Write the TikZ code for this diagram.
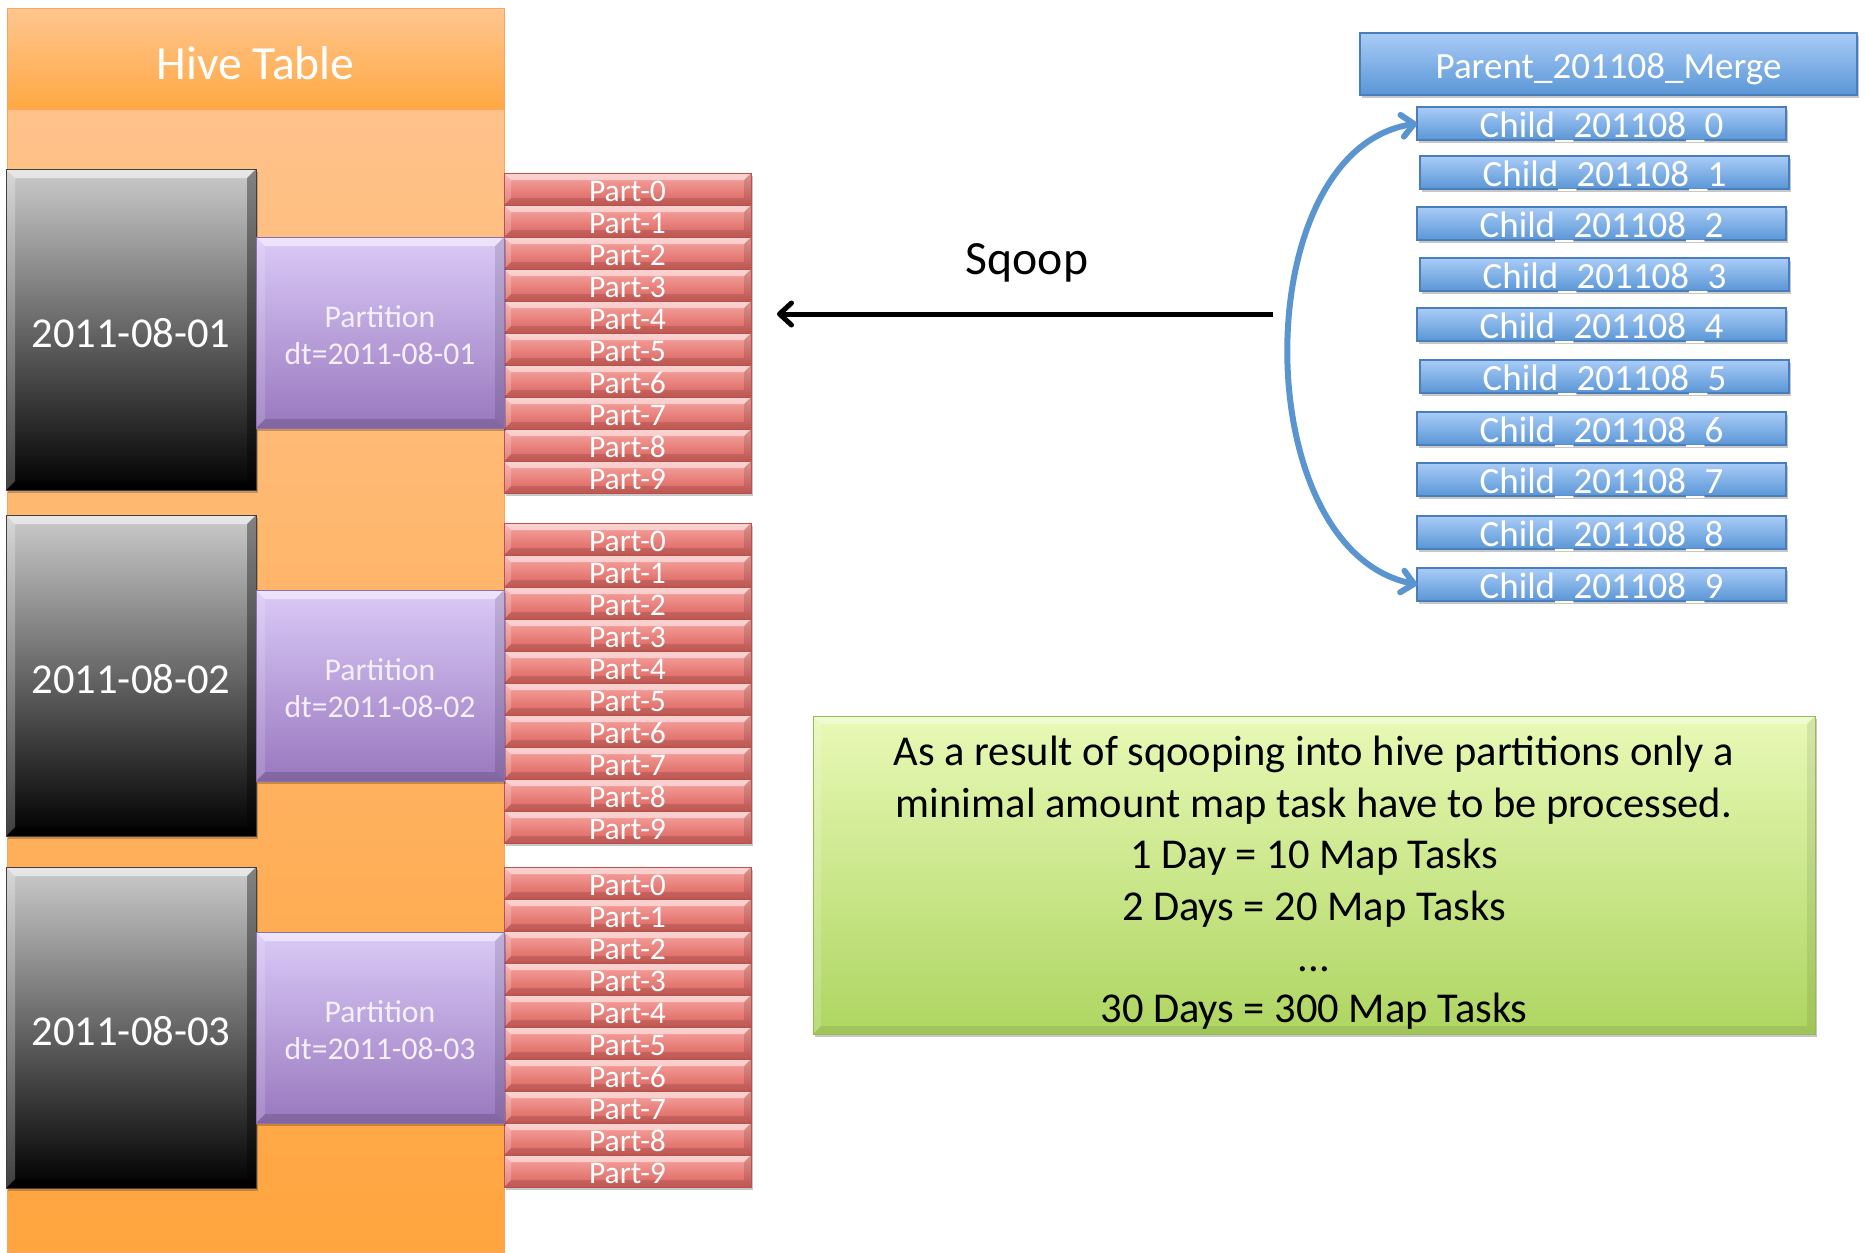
\documentclass[tikz,border=0pt]{standalone}
\usepackage{fontspec}
\setmainfont{Carlito}
\usetikzlibrary{arrows.meta,shadows}

% palette
\definecolor{hdrTop}{HTML}{FFC68F}
\definecolor{hdrBot}{HTML}{FFA843}
\definecolor{tblTop}{HTML}{FFC28A}
\definecolor{tblBot}{HTML}{FFA53F}
\definecolor{tblLine}{HTML}{F6A65E}
\definecolor{dateTop}{HTML}{CBCBCB}
\definecolor{partTop}{HTML}{DBCAF7}
\definecolor{partBot}{HTML}{9878BE}
\definecolor{partLine}{HTML}{8B6FB2}
\definecolor{partText}{HTML}{F4EFFB}
\definecolor{fileTop}{HTML}{F9A8A4}
\definecolor{fileMid}{HTML}{F2867F}
\definecolor{fileBot}{HTML}{DA625D}
\definecolor{fileLine}{HTML}{B9514E}
\definecolor{blueTop}{HTML}{A9CCF7}
\definecolor{blueBot}{HTML}{5A96D6}
\definecolor{blueLine}{HTML}{4A7EBB}
\definecolor{arcBlue}{HTML}{5B95D0}
\definecolor{noteTop}{HTML}{E8F9B6}
\definecolor{noteBot}{HTML}{AED561}
\definecolor{noteLine}{HTML}{98BA55}

\tikzset{
  % bevelled edges: size, top light, bottom dark, left light, right dark
  bevel/.style n args={5}{path picture={
    \path (path picture bounding box.north west) coordinate (bvA)
          (path picture bounding box.north east) coordinate (bvB)
          (path picture bounding box.south east) coordinate (bvC)
          (path picture bounding box.south west) coordinate (bvD);
    \fill[white,opacity=#2] (bvA) -- (bvB) -- ([xshift=-#1,yshift=-#1]bvB)
         -- ([xshift=#1,yshift=-#1]bvA) -- cycle;
    \fill[black,opacity=#3] (bvD) -- (bvC) -- ([xshift=-#1,yshift=#1]bvC)
         -- ([xshift=#1,yshift=#1]bvD) -- cycle;
    \fill[white,opacity=#4] (bvA) -- ([xshift=#1,yshift=-#1]bvA)
         -- ([xshift=#1,yshift=#1]bvD) -- (bvD) -- cycle;
    \fill[black,opacity=#5] (bvB) -- ([xshift=-#1,yshift=-#1]bvB)
         -- ([xshift=-#1,yshift=#1]bvC) -- (bvC) -- cycle;
  }},
  box/.style={rectangle, inner sep=0pt, outer sep=0pt, anchor=north west},
  softshadow/.style={drop shadow={shadow xshift=2pt, shadow yshift=-3pt,
                     opacity=.22, fill=black}},
  tblhead/.style={box, minimum width=497pt, minimum height=101pt,
    top color=hdrTop, bottom color=hdrBot, draw=tblLine, line width=1pt,
    text=white, font=\fontsize{47.6}{56}\selectfont,
    text height=41pt, text depth=0pt},
  tblbody/.style={box, minimum width=497pt, minimum height=1143pt,
    top color=tblTop, bottom color=tblBot, draw=tblLine, line width=1pt},
  datebox/.style={box, minimum width=250pt, minimum height=321pt,
    top color=dateTop, bottom color=black, draw=black!75, line width=.8pt,
    text=white, font=\fontsize{42.6}{50}\selectfont, softshadow,
    text height=35pt, text depth=0pt,
    bevel={9pt}{.55}{.35}{.25}{.35}},
  partbox/.style={box, minimum width=248pt, minimum height=191pt,
    top color=partTop, bottom color=partBot, draw=partLine, line width=.8pt,
    softshadow, bevel={9pt}{.5}{.15}{.15}{.12}},
  partlabel/.style={inner sep=0pt, text=partText, align=center,
    font=\fontsize{31.7}{37}\selectfont},
  filebox/.style={box, minimum width=247pt, minimum height=32pt,
    top color=fileTop, middle color=fileMid, bottom color=fileBot,
    draw=fileLine, line width=.8pt, text=white,
    font=\fontsize{31.5}{36}\selectfont, softshadow,
    text height=25.4pt, text depth=0pt,
    bevel={7pt}{.5}{.12}{.2}{.12}},
  bluebox/.style={box, top color=blueTop, bottom color=blueBot,
    draw=blueLine, line width=1.2pt, text=white,
    font=\fontsize{37}{44}\selectfont, softshadow,
    text height=28.5pt, text depth=0pt},
  childbox/.style={bluebox, minimum width=369pt, minimum height=33pt},
  notebox/.style={box, minimum width=1002pt, minimum height=318pt,
    top color=noteTop, bottom color=noteBot, draw=noteLine, line width=1pt,
    softshadow, bevel={8pt}{.4}{.08}{.15}{.08}},
  notelabel/.style={inner sep=0pt, align=center,
    font=\fontsize{42.5}{51.4}\selectfont},
  barbtip/.style={arrows={-{Straight Barb[length=12pt,width=22pt,round]}}},
}

\begin{document}
\begin{tikzpicture}[x=1pt,y=-1pt]
\useasboundingbox (0,0) rectangle (1864,1253);

% the hive table
\node[tblbody] (tbl) at (7,109) {};
\node[tblhead] (hdr) at (7,8) {Hive Table};

% daily partitions with their part files
\foreach \b/\day/\dy/\py/\fy in {1/01/169/237/173, 2/02/515/590/523, 3/03/867/932/867}{
  \foreach \i in {0,...,9}
    \node[filebox] (f\b-\i) at (504,\fy+32*\i) {Part-\i};
  \node[datebox] (d\b) at (6,\dy) {2011-08-\day};
  \node[partbox] (pt\b) at (256,\py) {};
  \node[partlabel] (ptl\b) at (380,\py+97.9) {Partition\\dt=2011-08-\day};
}

% merge parent and its children
\node[bluebox, minimum width=497pt, minimum height=62pt] (parent) at (1360,33)
  {Parent\_201108\_Merge};
\foreach \i/\x/\y in {0/1417/107, 1/1420/156, 2/1417/207, 3/1420/258,
                      4/1417/308, 5/1420/360, 6/1417/412, 7/1417/463,
                      8/1417/516, 9/1417/568}
  \node[childbox] (c\i) at (\x,\y) {Child\_201108\_\i};

\draw[arcBlue, line width=6pt, line cap=round,
      arrows={{Straight Barb[length=12pt,width=22pt,round]}-{Straight Barb[length=12pt,width=22pt,round]}}]
  (c0.west) .. controls (1246,150) and (1246,550) .. (c9.west);

% sqoop transfer
\coordinate (sqFrom) at (1273,314);
\coordinate (sqTo) at (777,314);
\draw[black, line width=5pt, barbtip] (sqFrom) -- (sqTo);
\node[font=\fontsize{47.7}{56}\selectfont] (sqLabel) at (1027,263) {Sqoop};

% summary note
\node[notebox] (note) at (813,716) {};
\node[notelabel] (noteText) at (1314,883)
  {As a result of sqooping into hive partitions only a\\
   minimal amount map task have to be processed.\\
   1 Day = 10 Map Tasks\\
   2 Days = 20 Map Tasks\\
   ...\\
   30 Days = 300 Map Tasks};
\end{tikzpicture}
\end{document}
